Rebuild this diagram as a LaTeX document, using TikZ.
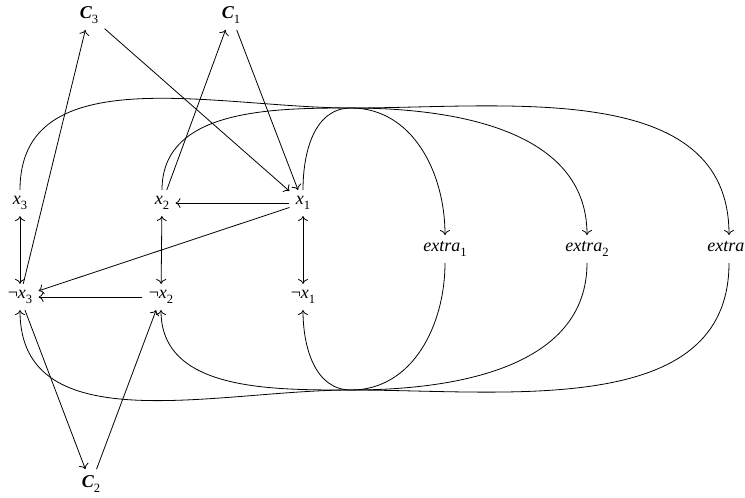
\documentclass[tikz,border=0pt]{standalone}
\usepackage{fontspec}
\setmainfont{Liberation Serif}
\usetikzlibrary{arrows.meta}
\newcommand\sbs[1]{\raisebox{-0.28em}{\fontsize{12.6}{14}\selectfont #1}}
\newcommand\vx[1]{\textit{x}\sbs{#1}}
\newcommand\nvx[1]{¬\textit{x}\sbs{#1}}
\newcommand\vc[1]{\textbf{\textit{C}}\sbs{#1}}
\begin{document}
\begin{tikzpicture}[x=1pt,y=-1pt,line width=0.8pt,
  >={Computer Modern Rightarrow[length=5pt,width=10pt]},
  lbl/.style={font=\fontsize{18}{21}\selectfont, inner sep=6pt},
  arr/.style={->},
  dbl/.style={<->}]
\useasboundingbox (0,0) rectangle (745,498);
% nodes
\node[lbl] (C3) at (89,15) {\vc3};
\node[lbl] (C1) at (231,15) {\vc1};
\node[lbl] (x3) at (20,203) {\vx3};
\node[lbl] (x2) at (162,203) {\vx2};
\node[lbl] (x1) at (303,203) {\vx1};
\node[lbl] (nx3) at (20,297) {\nvx3};
\node[lbl] (nx2) at (161,297) {\nvx2};
\node[lbl] (nx1) at (303,297) {\nvx1};
\node[lbl] (e1) at (445,249) {\textit{extra}\sbs1};
\node[lbl] (e2) at (587,249) {\textit{extra}\sbs2};
\node[lbl] (e3) at (729,249) {\textit{extra}\phantom{\sbs3}};
\node[lbl] (C2) at (91,484) {\vc2};
\coordinate (T) at (351,108);
\coordinate (B) at (351,390);
% straight edges
\draw[dbl] (x3) -- (nx3);
\draw[dbl] (x2) -- (nx2);
\draw[dbl] (x1) -- (nx1);
\draw[arr] (x1) -- (x2);
\draw[arr] (x1) -- (nx3);
\draw[arr] (nx2) -- (nx3);
\draw[arr] (C3) -- (x1);
\draw[arr] (nx3) -- (C3);
\draw[arr] (x2) -- (C1);
\draw[arr] (C1) -- (x1);
\draw[arr] (nx3) -- (C2);
\draw[arr] (C2) -- (nx2);
% curved edges through T and B
\draw[arr] (x3) to[out=90,in=180] (T) to[out=0,in=90] (e3);
\draw[arr] (x2) to[out=90,in=180] (T) to[out=0,in=90] (e2);
\draw[arr] (x1) to[out=90,in=180] (T) to[out=0,in=90] (e1);
\draw[arr] (e1) to[out=-90,in=0] (B) to[out=180,in=-90] (nx1);
\draw[arr] (e2) to[out=-90,in=0] (B) to[out=180,in=-90] (nx2);
\draw[arr] (e3) to[out=-90,in=0] (B) to[out=180,in=-90] (nx3);
\end{tikzpicture}
\end{document}
